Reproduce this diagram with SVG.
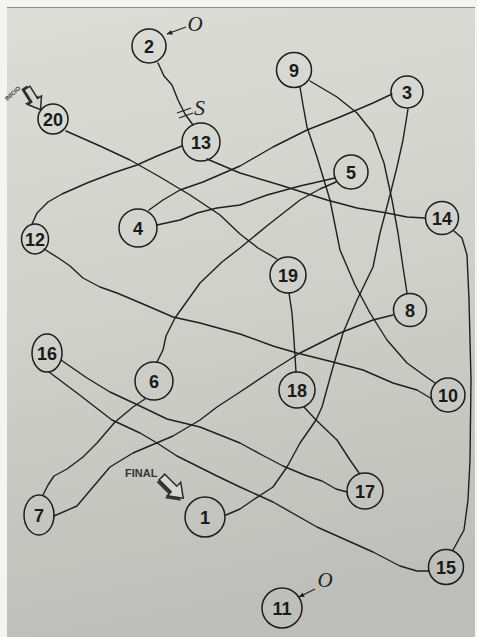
<svg xmlns="http://www.w3.org/2000/svg" width="477" height="637" viewBox="0 0 477 637">
  <defs>
    <linearGradient id="paper" x1="0" y1="0" x2="0.15" y2="1">
      <stop offset="0" stop-color="#dcddd7"/>
      <stop offset="0.5" stop-color="#d0d1cb"/>
      <stop offset="1" stop-color="#bebfba"/>
    </linearGradient>
    <marker id="tip" viewBox="0 0 10 10" refX="9" refY="5" markerWidth="6" markerHeight="6" orient="auto" markerUnits="userSpaceOnUse">
      <path d="M0,1 L10,5 L0,9 z" fill="#222"/>
    </marker>
    <!-- block arrow pointing along +x -->
    <path id="block" d="M0,-4 L17,-4 L17,-9.5 L30,0 L17,9.5 L17,4 L0,4 z"/>
  </defs>
  <style>
    .node circle, .node ellipse { fill: none; stroke: #1c1c1c; stroke-width: 1.5; }
    .node text { font-family: "Liberation Sans Narrow", "Liberation Sans", Arial, sans-serif; font-weight: bold; font-size: 18px; fill: #1a1a1a; text-anchor: middle; }
    #connectors path { fill: none; stroke: #1f1f1f; stroke-width: 1.4; stroke-linejoin: round; stroke-linecap: round; }
    .hand { font-family: "Liberation Serif", "Times New Roman", serif; font-style: italic; fill: #222; }
    .label { font-family: "Liberation Sans Narrow", "Liberation Sans", Arial, sans-serif; font-weight: bold; fill: #333; }
    .mark { fill: none; stroke: #222; stroke-width: 1.2; }
  </style>

  <!-- page -->
  <rect x="0" y="0" width="477" height="637" fill="#f4f4f2"/>
  <rect x="7" y="7" width="468" height="630" fill="url(#paper)"/>
  <line x1="7" y1="7.5" x2="475" y2="7.5" stroke="#8c8c8a" stroke-width="1.2"/>

  <g id="connectors">
    <!-- 2 - 13 -->
    <path d="M158,63 L164,76 L172,85 L178,100 L185,114 L193,125"/>
    <!-- 20 - 19 -->
    <path d="M66,131 L100,146 L130,160 L160,177 L190,195 L220,215 L240,234 L258,248 L277,259"/>
    <!-- 19 - 18 -->
    <path d="M289,293 L292,313 L294,340 L296,372"/>
    <!-- 18 - 17 -->
    <path d="M304,407 L316,420 L337,440 L350,460 L359,473"/>
    <!-- 17 - 16 -->
    <path d="M61,360 L87,378 L110,392 L140,406 L167,419 L200,427 L240,443 L262,455 L283,466 L307,476 L322,481 L336,489 L347,492"/>
    <!-- 16 - 15 -->
    <path d="M49,372 L77,393 L112,420 L140,433 L157,443 L177,456 L217,476 L240,487 L273,502 L317,527 L373,552 L400,566 L417,571 L429,571"/>
    <!-- 15 - 14 -->
    <path d="M454,231 L462,238 L467,255 L469,300 L471,380 L470,460 L468,500 L464,530 L453,550"/>
    <!-- 14 - 13 -->
    <path d="M207,159 L240,173 L280,185 L327,200 L357,208 L387,213 L407,217 L425,218"/>
    <!-- 13 - 12 -->
    <path d="M182,146 L157,156 L137,165 L113,173 L87,183 L62,194 L48,202 L37,213 L32,224"/>
    <!-- 12 - 10 -->
    <path d="M44,249 L60,259 L70,266 L83,278 L100,287 L117,293 L150,307 L173,317 L200,323 L240,334 L273,346 L297,353 L333,362 L363,370 L393,383 L417,390 L432,399"/>
    <!-- 10 - 9 -->
    <path d="M300,87 L303,105 L307,127 L317,157 L330,200 L340,250 L355,285 L370,313 L387,340 L407,363 L425,376 L435,383"/>
    <!-- 9 - 8 -->
    <path d="M310,81 L337,97 L357,113 L373,133 L384,163 L392,200 L398,233 L403,267 L407,293"/>
    <!-- 8 - 7 -->
    <path d="M393,315 L373,320 L340,333 L300,353 L273,370 L240,392 L217,407 L200,420 L173,436 L133,453 L110,467 L93,487 L77,506 L54,516"/>
    <!-- 7 - 6 -->
    <path d="M145,399 L133,407 L115,422 L97,443 L83,457 L67,469 L54,476 L48,485 L43,495"/>
    <!-- 6 - 5 -->
    <path d="M157,362 L163,350 L166,336 L175,318 L200,283 L222,262 L240,248 L268,225 L300,200 L320,189 L336,182"/>
    <!-- 5 - 4 -->
    <path d="M157,225 L180,220 L197,213 L217,208 L240,205 L267,195 L300,186 L335,178"/>
    <!-- 4 - 3 -->
    <path d="M149,210 L163,200 L180,190 L203,182 L240,166 L273,147 L307,130 L340,117 L373,103 L392,94"/>
    <!-- 3 - 1 -->
    <path d="M226,515 L240,509 L253,500 L273,487 L287,467 L300,443 L316,420 L322,407 L333,367 L343,333 L357,300 L373,267 L380,233 L390,195 L397,167 L403,140 L408,109"/>
  </g>

  <!-- crossing marks on the 2 - 13 link -->
  <g id="cut-mark">
    <path class="mark" d="M177,113 L191,108 M179,118 L193,113"/>
    <text class="hand" x="194" y="115" font-size="22">S</text>
  </g>

  <g id="node-1" class="node"><circle cx="205" cy="517" r="20"/><text x="205" y="523.5">1</text></g>
  <g id="node-2" class="node"><circle cx="149" cy="46" r="17"/><text x="149" y="52.5">2</text></g>
  <g id="node-3" class="node"><circle cx="407" cy="92" r="16"/><text x="407" y="98.5">3</text></g>
  <g id="node-4" class="node"><circle cx="138" cy="228" r="19"/><text x="138" y="234.5">4</text></g>
  <g id="node-5" class="node"><circle cx="351" cy="172" r="17"/><text x="351" y="178.5">5</text></g>
  <g id="node-6" class="node"><circle cx="154" cy="381" r="19"/><text x="154" y="387.5">6</text></g>
  <g id="node-7" class="node"><ellipse cx="39" cy="515" rx="15" ry="20"/><text x="39" y="521.5">7</text></g>
  <g id="node-8" class="node"><circle cx="410" cy="310" r="16.5"/><text x="410" y="316.5">8</text></g>
  <g id="node-9" class="node"><circle cx="294" cy="70" r="17.5"/><text x="294" y="76.5">9</text></g>
  <g id="node-10" class="node"><circle cx="448" cy="395" r="17"/><text x="448" y="401.5">10</text></g>
  <g id="node-11" class="node"><circle cx="282" cy="608" r="20"/><text x="282" y="614.5">11</text></g>
  <g id="node-12" class="node"><ellipse cx="35" cy="239" rx="13.5" ry="15"/><text x="35" y="245.5">12</text></g>
  <g id="node-13" class="node"><circle cx="201" cy="142" r="19"/><text x="201" y="148.5">13</text></g>
  <g id="node-14" class="node"><circle cx="442" cy="218" r="16.5"/><text x="442" y="224.5">14</text></g>
  <g id="node-15" class="node"><circle cx="446" cy="567" r="17.5"/><text x="446" y="573.5">15</text></g>
  <g id="node-16" class="node"><ellipse cx="47" cy="353" rx="15" ry="19"/><text x="47" y="359.5">16</text></g>
  <g id="node-17" class="node"><circle cx="365" cy="491" r="18"/><text x="365" y="497.5">17</text></g>
  <g id="node-18" class="node"><circle cx="297" cy="390" r="18"/><text x="297" y="396.5">18</text></g>
  <g id="node-19" class="node"><circle cx="288" cy="275" r="18"/><text x="288" y="281.5">19</text></g>
  <g id="node-20" class="node"><circle cx="53" cy="119" r="15"/><text x="53" y="125.5">20</text></g>

  <!-- handwritten notes pointing at 2 and 11 -->
  <g id="note-2">
    <path d="M186,27 L167,34" stroke="#222" stroke-width="1.2" fill="none" marker-end="url(#tip)"/>
    <text class="hand" x="195" y="31" font-size="21" text-anchor="middle">O</text>
  </g>
  <g id="note-11">
    <path d="M315,589 L299,597" stroke="#222" stroke-width="1.2" fill="none" marker-end="url(#tip)"/>
    <text class="hand" x="325" y="587" font-size="21" text-anchor="middle">O</text>
  </g>

  <!-- start marker -->
  <g id="start">
    <text class="label" font-size="6" transform="translate(7,101) rotate(-41)">INICIO</text>
    <g transform="translate(27,88) rotate(58) scale(0.85)">
      <use href="#block" transform="translate(-2.5,2.5)" fill="#3a3a3a"/>
      <use href="#block" fill="#d6d7d1" stroke="#2a2a2a" stroke-width="1.8"/>
    </g>
  </g>

  <!-- end marker -->
  <g id="end">
    <text class="label" x="125" y="477" font-size="11">FINAL</text>
    <g transform="translate(162,477) rotate(45)">
      <use href="#block" transform="translate(0,3.5)" fill="#3a3a3a"/>
      <use href="#block" fill="#d6d7d1" stroke="#2a2a2a" stroke-width="1.5"/>
    </g>
  </g>
</svg>
